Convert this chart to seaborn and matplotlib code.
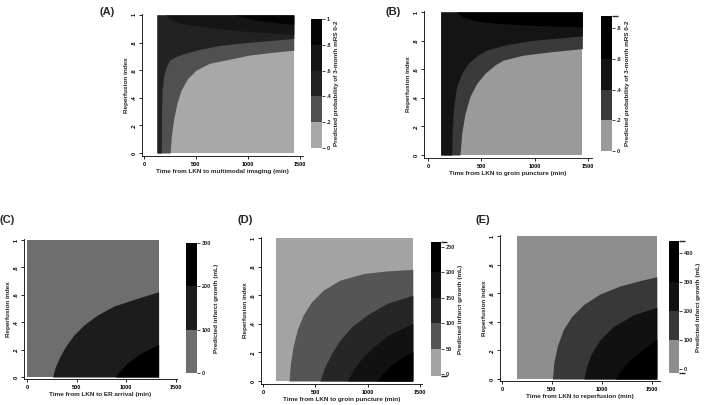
import matplotlib
matplotlib.use("Agg")
import matplotlib.pyplot as plt
from matplotlib.colors import ListedColormap, BoundaryNorm
import matplotlib.colorbar as mcolorbar
import seaborn as sns

# ---- data (time in min, reperfusion index 0-1) ----
# (A) probability of mRS 0-2 vs time to multimodal imaging
a_range = [125, 1440]
a_levels = [0, 0.2, 0.4, 0.6, 0.8, 1.0]
a_ticks = [0, 0.2, 0.4, 0.6, 0.8, 1.0]
a_tick_labels = ["0", ".2", ".4", ".6", ".8", "1"]
a_colors = ["#a8a8a8", "#505050", "#222222", "#151515", "#040404"]
a_t02 = [252, 262, 284, 316, 357, 421, 500, 628, 824, 1016, 1240, 1440]
a_r02 = [0, 0.118, 0.239, 0.36, 0.457, 0.541, 0.60, 0.65, 0.68, 0.71, 0.73, 0.745]
a_t04 = [166, 169, 175, 188, 214, 245, 311, 407, 535, 728, 984, 1440]
a_r04 = [0, 0.31, 0.457, 0.553, 0.625, 0.674, 0.70, 0.725, 0.75, 0.78, 0.80, 0.83]
a_t06 = [202, 270, 347, 470, 608, 800, 1000, 1440]
a_r06 = [1.0, 0.96, 0.94, 0.925, 0.91, 0.895, 0.88, 0.86]
a_t08 = [860, 1100, 1440]
a_r08 = [1.0, 0.96, 0.93]

# (B) probability of mRS 0-2 vs time to groin puncture
b_range = [119, 1447]
b_levels = [0, 0.2, 0.4, 0.6, 0.88]
b_ticks = [0, 0.2, 0.4, 0.6, 0.8]
b_tick_labels = ["0", ".2", ".4", ".6", ".8"]
b_colors = ["#9a9a9a", "#3a3a3a", "#141414", "#000000"]
b_t02 = [300, 316, 347, 394, 456, 534, 628, 703, 891, 1141, 1447]
b_r02 = [0, 0.152, 0.29, 0.41, 0.50, 0.571, 0.63, 0.663, 0.698, 0.721, 0.744]
b_t04 = [222, 228, 244, 269, 316, 378, 450, 547, 734, 984, 1447]
b_r04 = [0, 0.198, 0.36, 0.478, 0.571, 0.641, 0.69, 0.733, 0.772, 0.802, 0.833]
b_t06 = [266, 328, 453, 672, 984, 1447]
b_r06 = [1.0, 0.965, 0.937, 0.919, 0.907, 0.895]

# (C) infarct growth vs time to ER arrival
c_range = [0, 1325]
c_levels = [0, 100, 200, 300]
c_ticks = [0, 100, 200, 300]
c_colors = ["#6e6e6e", "#1c1c1c", "#000000"]
c_t100 = [258, 285, 329, 386, 470, 570, 705, 872, 1074, 1325]
c_r100 = [0, 0.073, 0.146, 0.22, 0.305, 0.378, 0.451, 0.517, 0.566, 0.622]
c_t200 = [889, 940, 1023, 1141, 1325]
c_r200 = [0, 0.049, 0.11, 0.171, 0.239]

# (D) infarct growth vs time to groin puncture
d_range = [128, 1431]
d_levels = [-3, 50, 100, 150, 200, 259]
d_ticks = [0, 50, 100, 150, 200, 250]
d_colors = ["#a3a3a3", "#555555", "#262626", "#111111", "#000000"]
d_t50 = [249, 262, 288, 326, 383, 463, 575, 735, 958, 1182, 1431]
d_r50 = [0, 0.123, 0.24, 0.356, 0.46, 0.553, 0.635, 0.705, 0.751, 0.77, 0.781]
d_t100 = [543, 591, 655, 735, 847, 990, 1182, 1431]
d_r100 = [0, 0.10, 0.193, 0.286, 0.379, 0.46, 0.542, 0.60]
d_t150 = [805, 863, 942, 1054, 1214, 1431]
d_r150 = [0, 0.077, 0.158, 0.24, 0.328, 0.402]
d_t200 = [1086, 1150, 1246, 1342, 1431]
d_r200 = [0, 0.053, 0.123, 0.17, 0.205]

# (E) infarct growth vs time to reperfusion
e_range = [154, 1548]
e_levels = [-15, 100, 200, 300, 440]
e_ticks = [0, 100, 200, 300, 400]
e_colors = ["#8e8e8e", "#383838", "#111111", "#000000"]
e_t100 = [505, 518, 552, 612, 696, 813, 980, 1181, 1381, 1548]
e_r100 = [0, 0.112, 0.228, 0.344, 0.437, 0.519, 0.595, 0.651, 0.688, 0.716]
e_t200 = [819, 846, 896, 980, 1114, 1314, 1548]
e_r200 = [0, 0.088, 0.181, 0.274, 0.367, 0.449, 0.502]
e_t300 = [1130, 1181, 1264, 1381, 1548]
e_r300 = [0, 0.053, 0.123, 0.193, 0.279]

x_ticks = [0, 500, 1000, 1500]
y_ticks = [0, 0.2, 0.4, 0.6, 0.8, 1.0]
y_tick_labels = ["0", ".2", ".4", ".6", ".8", "1"]

sns.set_theme(style="ticks")
plt.rcParams["font.family"] = ["Liberation Sans", "DejaVu Sans"]
plt.rcParams["font.weight"] = "bold"
plt.rcParams["axes.labelweight"] = "bold"

W, H = 709, 405
fig = plt.figure(figsize=(W / 100, H / 100), dpi=100)


def rect(left, top, right, bottom):
    return [left / W, 1 - bottom / H, (right - left) / W, (bottom - top) / H]


def draw_panel(box, x0px, x1500px, y0px, y1px, trange, colors, curves, upper,
               xlabel, tag, tagpos):
    left, top, right, bottom = box
    ax = fig.add_axes(rect(*box))
    sx = (x1500px - x0px) / 1500
    sy = (y0px - y1px)
    ax.set_xlim((left - x0px) / sx, (right - x0px) / sx)
    ax.set_ylim((y0px - bottom) / sy, (y0px - top) / sy)

    t0, t1 = trange
    ax.fill_between([t0, t1], 0, 1, color=colors[0], lw=0)
    for (t, r), col in zip(curves, colors[1:]):
        if upper:
            # region above the contour; if it starts on the bottom edge,
            # everything left of it belongs to the region too
            if r[0] == 0 and t[0] > t0:
                t = [t0] + list(t)
                r = [0] + list(r)
            ax.fill_between(t, r, 1, color=col, lw=0)
        else:
            ax.fill_between(t, 0, r, color=col, lw=0)

    ax.set_xticks(x_ticks)
    ax.set_yticks(y_ticks)
    ax.set_yticklabels(y_tick_labels, rotation=90, va="center")
    ax.tick_params(labelsize=4, length=2.5, width=0.6, pad=1.5, colors="black")
    sns.despine(ax=ax)
    for s in ["left", "bottom"]:
        ax.spines[s].set_linewidth(0.6)
        ax.spines[s].set_color("black")
    ax.set_xlabel(xlabel, fontsize=4.6, labelpad=1.5)
    ax.set_ylabel("Reperfusion index", fontsize=4.6, labelpad=2)
    fig.text(tagpos[0] / W, 1 - tagpos[1] / H, tag, fontsize=8,
             fontweight="bold", ha="left", va="center")
    return ax


def draw_cbar(box, levels, colors, ticks, labels, title):
    cax = fig.add_axes(rect(*box))
    cmap = ListedColormap(colors)
    norm = BoundaryNorm(levels, cmap.N)
    cb = mcolorbar.ColorbarBase(cax, cmap=cmap, norm=norm, boundaries=levels,
                                spacing="proportional", ticks=ticks)
    cb.outline.set_visible(False)
    if labels is not None:
        cb.set_ticklabels(labels)
    cax.tick_params(labelsize=4, length=2, width=0.6, pad=1.5)
    cb.set_label(title, fontsize=4.6, fontweight="bold", labelpad=2)
    return cb


# (A)
draw_panel((142, 14, 303, 156), 144, 300, 153, 15, a_range, a_colors,
           [(a_t02, a_r02), (a_t04, a_r04), (a_t06, a_r06), (a_t08, a_r08)], True,
           "Time from LKN to multimodal imaging (min)", "(A)", (100, 12))
draw_cbar((311, 19, 322, 148), a_levels, a_colors, a_ticks, a_tick_labels,
          "Predicted probability of 3-month mRS 0-2")

# (B)
draw_panel((424, 11, 592, 158), 428, 588, 155, 12, b_range, b_colors,
           [(b_t02, b_r02), (b_t04, b_r04), (b_t06, b_r06)], True,
           "Time from LKN to groin puncture (min)", "(B)", (385, 12))
draw_cbar((601, 16, 612, 151), b_levels, b_colors, b_ticks, b_tick_labels,
          "Predicted probability of 3-month mRS 0-2")

# (C)
draw_panel((24, 239, 177, 379), 27, 176, 377, 240, c_range, c_colors,
           [(c_t100, c_r100), (c_t200, c_r200)], False,
           "Time from LKN to ER arrival (min)", "(C)", (0, 220))
draw_cbar((186, 243, 197, 373), c_levels, c_colors, c_ticks, None,
          "Predicted infarct growth (mL)")

# (D)
draw_panel((261, 237, 422, 384), 263, 420, 381, 238, d_range, d_colors,
           [(d_t50, d_r50), (d_t100, d_r100), (d_t150, d_r150), (d_t200, d_r200)],
           False, "Time from LKN to groin puncture (min)", "(D)", (238, 220))
draw_cbar((431, 242, 441, 376), d_levels, d_colors, d_ticks, None,
          "Predicted infarct growth (mL)")

# (E)
draw_panel((500, 235, 660, 381), 502, 652, 379, 236, e_range, e_colors,
           [(e_t100, e_r100), (e_t200, e_r200), (e_t300, e_r300)], False,
           "Time from LKN to reperfusion (min)", "(E)", (476, 220))
draw_cbar((669, 241, 679, 373), e_levels, e_colors, e_ticks, None,
          "Predicted infarct growth (mL)")

fig.savefig("out.png", dpi=100, facecolor="white")
